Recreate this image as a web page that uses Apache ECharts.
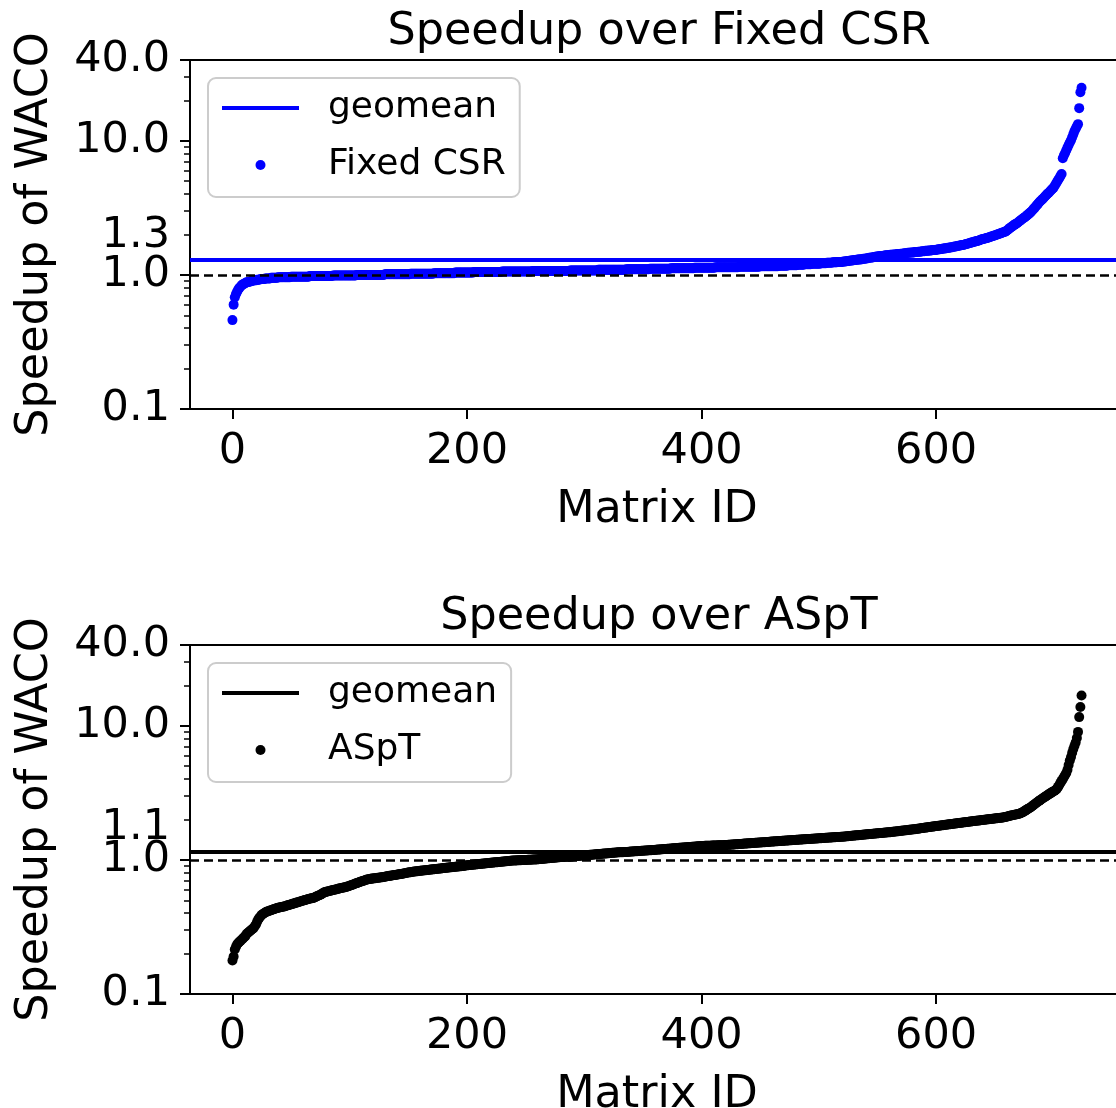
<!DOCTYPE html>
<html>
<head>
<meta charset="utf-8">
<script src="https://cdn.jsdelivr.net/npm/echarts@6/dist/echarts.min.js"></script>
<style>
  html, body { margin: 0; padding: 0; background: #fff; }
  #chart { width: 1116px; height: 1108px; }
</style>
</head>
<body>
<div id="chart"></div>
<script>
// sorted speedups, index = Matrix ID
const fixedCsr = [
  0.46, 0.60, 0.68, 0.72, 0.75, 0.78, 0.80, 0.82, 0.84, 0.85, 0.86, 0.87, 0.88, 0.88, 0.89, 0.89, 0.90, 0.90, 0.91, 0.91,
  0.91, 0.92, 0.92, 0.92, 0.93, 0.93, 0.93, 0.93, 0.94, 0.94, 0.94, 0.94, 0.94, 0.95, 0.95, 0.95, 0.95, 0.95, 0.95, 0.96,
  0.96, 0.96, 0.96, 0.96, 0.96, 0.96, 0.96, 0.96, 0.96, 0.96, 0.97, 0.97, 0.97, 0.97, 0.97, 0.97, 0.97, 0.97, 0.97, 0.97,
  0.97, 0.97, 0.97, 0.97, 0.97, 0.97, 0.98, 0.98, 0.98, 0.98, 0.98, 0.98, 0.98, 0.98, 0.98, 0.98, 0.98, 0.98, 0.98, 0.98,
  0.98, 0.98, 0.98, 0.98, 0.98, 0.98, 0.99, 0.99, 0.99, 0.99, 0.99, 0.99, 0.99, 0.99, 0.99, 0.99, 0.99, 0.99, 0.99, 0.99,
  0.99, 0.99, 0.99, 0.99, 0.99, 0.99, 1.00, 1.00, 1.00, 1.00, 1.00, 1.00, 1.00, 1.00, 1.00, 1.00, 1.00, 1.00, 1.00, 1.00,
  1.00, 1.00, 1.00, 1.00, 1.00, 1.00, 1.00, 1.00, 1.00, 1.00, 1.01, 1.01, 1.01, 1.01, 1.01, 1.01, 1.01, 1.01, 1.01, 1.01,
  1.01, 1.01, 1.01, 1.01, 1.01, 1.01, 1.01, 1.01, 1.01, 1.01, 1.01, 1.01, 1.02, 1.02, 1.02, 1.02, 1.02, 1.02, 1.02, 1.02,
  1.02, 1.02, 1.02, 1.02, 1.02, 1.02, 1.02, 1.02, 1.02, 1.02, 1.02, 1.02, 1.03, 1.03, 1.03, 1.03, 1.03, 1.03, 1.03, 1.03,
  1.03, 1.03, 1.03, 1.03, 1.03, 1.03, 1.03, 1.03, 1.03, 1.03, 1.04, 1.04, 1.04, 1.04, 1.04, 1.04, 1.04, 1.04, 1.04, 1.04,
  1.04, 1.04, 1.04, 1.04, 1.04, 1.04, 1.05, 1.05, 1.05, 1.05, 1.05, 1.05, 1.05, 1.05, 1.05, 1.05, 1.05, 1.05, 1.05, 1.05,
  1.05, 1.05, 1.05, 1.05, 1.05, 1.05, 1.05, 1.05, 1.05, 1.05, 1.06, 1.06, 1.06, 1.06, 1.06, 1.06, 1.06, 1.06, 1.06, 1.06,
  1.06, 1.06, 1.06, 1.06, 1.06, 1.06, 1.06, 1.06, 1.06, 1.06, 1.06, 1.06, 1.06, 1.06, 1.06, 1.06, 1.07, 1.07, 1.07, 1.07,
  1.07, 1.07, 1.07, 1.07, 1.07, 1.07, 1.07, 1.07, 1.07, 1.07, 1.07, 1.07, 1.07, 1.07, 1.07, 1.07, 1.07, 1.07, 1.07, 1.07,
  1.07, 1.07, 1.07, 1.07, 1.07, 1.07, 1.07, 1.07, 1.08, 1.08, 1.08, 1.08, 1.08, 1.08, 1.08, 1.08, 1.08, 1.08, 1.08, 1.08,
  1.08, 1.08, 1.08, 1.08, 1.08, 1.08, 1.08, 1.08, 1.08, 1.08, 1.08, 1.08, 1.09, 1.09, 1.09, 1.09, 1.09, 1.09, 1.09, 1.09,
  1.09, 1.09, 1.09, 1.09, 1.09, 1.09, 1.09, 1.09, 1.09, 1.09, 1.09, 1.09, 1.09, 1.09, 1.09, 1.09, 1.10, 1.10, 1.10, 1.10,
  1.10, 1.10, 1.10, 1.10, 1.10, 1.10, 1.10, 1.10, 1.10, 1.10, 1.10, 1.10, 1.10, 1.10, 1.10, 1.10, 1.11, 1.11, 1.11, 1.11,
  1.11, 1.11, 1.11, 1.11, 1.11, 1.11, 1.11, 1.11, 1.11, 1.11, 1.11, 1.11, 1.11, 1.11, 1.12, 1.12, 1.12, 1.12, 1.12, 1.12,
  1.12, 1.12, 1.12, 1.12, 1.12, 1.12, 1.12, 1.12, 1.12, 1.12, 1.12, 1.12, 1.12, 1.12, 1.13, 1.13, 1.13, 1.13, 1.13, 1.13,
  1.13, 1.13, 1.13, 1.13, 1.13, 1.13, 1.13, 1.13, 1.13, 1.13, 1.13, 1.13, 1.14, 1.14, 1.14, 1.14, 1.14, 1.14, 1.14, 1.14,
  1.14, 1.14, 1.14, 1.14, 1.14, 1.14, 1.14, 1.14, 1.14, 1.14, 1.14, 1.14, 1.15, 1.15, 1.15, 1.15, 1.15, 1.15, 1.15, 1.15,
  1.15, 1.15, 1.15, 1.15, 1.15, 1.15, 1.15, 1.15, 1.15, 1.15, 1.16, 1.16, 1.16, 1.16, 1.16, 1.16, 1.16, 1.16, 1.16, 1.16,
  1.16, 1.16, 1.16, 1.16, 1.16, 1.16, 1.17, 1.17, 1.17, 1.17, 1.17, 1.17, 1.17, 1.17, 1.18, 1.18, 1.18, 1.18, 1.18, 1.18,
  1.18, 1.18, 1.19, 1.19, 1.19, 1.19, 1.19, 1.19, 1.20, 1.20, 1.20, 1.20, 1.20, 1.20, 1.21, 1.21, 1.21, 1.21, 1.21, 1.21,
  1.21, 1.21, 1.22, 1.22, 1.22, 1.22, 1.22, 1.23, 1.23, 1.23, 1.23, 1.23, 1.24, 1.24, 1.24, 1.24, 1.25, 1.25, 1.25, 1.25,
  1.25, 1.26, 1.26, 1.26, 1.27, 1.27, 1.27, 1.28, 1.28, 1.28, 1.29, 1.29, 1.29, 1.30, 1.30, 1.30, 1.31, 1.31, 1.32, 1.32,
  1.32, 1.33, 1.33, 1.34, 1.34, 1.35, 1.35, 1.36, 1.36, 1.37, 1.37, 1.37, 1.38, 1.38, 1.38, 1.39, 1.39, 1.40, 1.40, 1.40,
  1.40, 1.41, 1.41, 1.41, 1.42, 1.42, 1.42, 1.43, 1.43, 1.43, 1.44, 1.44, 1.44, 1.45, 1.45, 1.45, 1.46, 1.46, 1.46, 1.47,
  1.47, 1.47, 1.48, 1.48, 1.48, 1.49, 1.49, 1.49, 1.50, 1.50, 1.50, 1.51, 1.51, 1.51, 1.52, 1.52, 1.52, 1.53, 1.53, 1.53,
  1.54, 1.54, 1.55, 1.55, 1.56, 1.56, 1.57, 1.57, 1.58, 1.58, 1.59, 1.59, 1.60, 1.61, 1.61, 1.62, 1.63, 1.63, 1.64, 1.65,
  1.65, 1.66, 1.67, 1.67, 1.68, 1.69, 1.70, 1.71, 1.72, 1.73, 1.74, 1.75, 1.76, 1.77, 1.78, 1.79, 1.80, 1.81, 1.83, 1.84,
  1.85, 1.86, 1.87, 1.88, 1.89, 1.90, 1.92, 1.93, 1.94, 1.96, 1.97, 1.98, 2.00, 2.01, 2.03, 2.04, 2.06, 2.07, 2.09, 2.10,
  2.13, 2.16, 2.20, 2.24, 2.27, 2.30, 2.34, 2.37, 2.40, 2.43, 2.47, 2.51, 2.55, 2.59, 2.63, 2.67, 2.71, 2.75, 2.80, 2.85,
  2.90, 2.96, 3.02, 3.09, 3.16, 3.24, 3.32, 3.40, 3.48, 3.55, 3.62, 3.70, 3.78, 3.86, 3.94, 4.02, 4.10, 4.19, 4.28, 4.37,
  4.45, 4.60, 4.76, 4.93, 5.10, 5.25, 5.45, 5.65, 7.40, 7.80, 8.10, 8.50, 8.90, 9.30, 9.70, 10.1, 10.6, 11.2, 11.8, 12.3,
  12.8, 13.3, 17.5, 23.0, 24.8
];

const aspt = [
  0.178, 0.19, 0.215, 0.225, 0.235, 0.24, 0.245, 0.25, 0.255, 0.26, 0.265, 0.27, 0.28, 0.285, 0.29, 0.295, 0.30, 0.305, 0.31, 0.32,
  0.33, 0.345, 0.36, 0.37, 0.38, 0.39, 0.395, 0.40, 0.405, 0.41, 0.413, 0.416, 0.419, 0.422, 0.425, 0.428, 0.431, 0.434, 0.437, 0.44,
  0.442, 0.444, 0.446, 0.448, 0.45, 0.452, 0.455, 0.458, 0.461, 0.463, 0.466, 0.469, 0.472, 0.475, 0.478, 0.481, 0.484, 0.487, 0.49, 0.493,
  0.496, 0.499, 0.502, 0.505, 0.508, 0.511, 0.514, 0.517, 0.518, 0.52, 0.525, 0.53, 0.535, 0.54, 0.545, 0.55, 0.555, 0.565, 0.57, 0.575,
  0.578, 0.581, 0.584, 0.587, 0.59, 0.593, 0.596, 0.599, 0.602, 0.605, 0.608, 0.611, 0.614, 0.617, 0.62, 0.623, 0.626, 0.629, 0.633, 0.637,
  0.641, 0.646, 0.651, 0.656, 0.661, 0.666, 0.671, 0.676, 0.681, 0.686, 0.691, 0.696, 0.70, 0.705, 0.71, 0.713, 0.716, 0.719, 0.722, 0.725,
  0.727, 0.729, 0.731, 0.733, 0.735, 0.737, 0.739, 0.741, 0.743, 0.745, 0.748, 0.751, 0.754, 0.757, 0.76, 0.763, 0.766, 0.768, 0.77, 0.772,
  0.774, 0.777, 0.78, 0.783, 0.786, 0.789, 0.792, 0.795, 0.798, 0.801, 0.804, 0.807, 0.81, 0.813, 0.816, 0.818, 0.82, 0.822, 0.824, 0.826,
  0.828, 0.83, 0.832, 0.834, 0.836, 0.838, 0.84, 0.842, 0.844, 0.846, 0.848, 0.85, 0.852, 0.854, 0.856, 0.858, 0.86, 0.862, 0.864, 0.866,
  0.868, 0.87, 0.872, 0.874, 0.876, 0.878, 0.88, 0.882, 0.884, 0.886, 0.888, 0.89, 0.892, 0.894, 0.896, 0.898, 0.90, 0.902, 0.905, 0.908,
  0.91, 0.912, 0.914, 0.916, 0.918, 0.92, 0.922, 0.924, 0.926, 0.928, 0.93, 0.932, 0.934, 0.936, 0.938, 0.94, 0.942, 0.944, 0.946, 0.948,
  0.95, 0.952, 0.954, 0.956, 0.958, 0.96, 0.962, 0.964, 0.966, 0.968, 0.97, 0.972, 0.974, 0.976, 0.978, 0.98, 0.982, 0.984, 0.986, 0.988,
  0.989, 0.99, 0.991, 0.992, 0.993, 0.994, 0.995, 0.996, 0.997, 0.998, 0.999, 1.0, 1.001, 1.002, 1.003, 1.004, 1.005, 1.006, 1.007, 1.008,
  1.009, 1.011, 1.013, 1.015, 1.017, 1.019, 1.021, 1.023, 1.025, 1.027, 1.029, 1.031, 1.033, 1.035, 1.037, 1.039, 1.041, 1.043, 1.045, 1.047,
  1.049, 1.05, 1.051, 1.052, 1.053, 1.054, 1.055, 1.056, 1.057, 1.058, 1.06, 1.062, 1.064, 1.066, 1.068, 1.07, 1.072, 1.074, 1.076, 1.078,
  1.08, 1.082, 1.084, 1.086, 1.088, 1.09, 1.092, 1.094, 1.096, 1.098, 1.10, 1.102, 1.104, 1.106, 1.108, 1.11, 1.112, 1.114, 1.116, 1.118,
  1.12, 1.122, 1.124, 1.126, 1.128, 1.13, 1.132, 1.134, 1.136, 1.138, 1.139, 1.14, 1.141, 1.142, 1.143, 1.144, 1.145, 1.147, 1.149, 1.151,
  1.153, 1.155, 1.157, 1.158, 1.16, 1.162, 1.163, 1.165, 1.167, 1.168, 1.17, 1.172, 1.173, 1.175, 1.177, 1.178, 1.18, 1.182, 1.183, 1.185,
  1.187, 1.189, 1.191, 1.193, 1.195, 1.197, 1.199, 1.201, 1.203, 1.205, 1.207, 1.209, 1.211, 1.213, 1.215, 1.217, 1.219, 1.221, 1.223, 1.225,
  1.227, 1.229, 1.231, 1.233, 1.235, 1.237, 1.239, 1.241, 1.243, 1.245, 1.247, 1.249, 1.251, 1.253, 1.255, 1.257, 1.259, 1.261, 1.263, 1.265,
  1.267, 1.269, 1.271, 1.272, 1.273, 1.274, 1.275, 1.276, 1.277, 1.278, 1.279, 1.28, 1.281, 1.282, 1.283, 1.284, 1.285, 1.286, 1.287, 1.288,
  1.289, 1.29, 1.292, 1.294, 1.296, 1.298, 1.30, 1.302, 1.304, 1.306, 1.308, 1.31, 1.312, 1.314, 1.316, 1.318, 1.32, 1.322, 1.324, 1.326,
  1.328, 1.33, 1.332, 1.334, 1.336, 1.338, 1.34, 1.342, 1.344, 1.346, 1.348, 1.35, 1.352, 1.354, 1.356, 1.358, 1.36, 1.362, 1.364, 1.366,
  1.368, 1.37, 1.372, 1.374, 1.376, 1.378, 1.38, 1.382, 1.384, 1.386, 1.388, 1.39, 1.392, 1.394, 1.396, 1.398, 1.40, 1.402, 1.404, 1.406,
  1.408, 1.41, 1.412, 1.414, 1.416, 1.418, 1.42, 1.422, 1.424, 1.426, 1.428, 1.43, 1.432, 1.434, 1.436, 1.438, 1.44, 1.442, 1.444, 1.446,
  1.448, 1.45, 1.452, 1.454, 1.456, 1.458, 1.46, 1.462, 1.464, 1.466, 1.468, 1.47, 1.472, 1.474, 1.476, 1.478, 1.48, 1.482, 1.484, 1.486,
  1.488, 1.49, 1.493, 1.496, 1.499, 1.502, 1.505, 1.508, 1.511, 1.514, 1.517, 1.52, 1.523, 1.526, 1.529, 1.532, 1.535, 1.538, 1.541, 1.544,
  1.547, 1.55, 1.553, 1.556, 1.559, 1.562, 1.565, 1.568, 1.571, 1.574, 1.577, 1.58, 1.583, 1.586, 1.589, 1.592, 1.595, 1.598, 1.601, 1.604,
  1.607, 1.61, 1.614, 1.618, 1.622, 1.626, 1.63, 1.634, 1.638, 1.642, 1.646, 1.65, 1.654, 1.658, 1.662, 1.666, 1.67, 1.674, 1.678, 1.682,
  1.686, 1.69, 1.695, 1.70, 1.705, 1.71, 1.715, 1.72, 1.725, 1.73, 1.735, 1.74, 1.745, 1.75, 1.755, 1.76, 1.765, 1.77, 1.775, 1.78,
  1.785, 1.79, 1.795, 1.80, 1.805, 1.81, 1.815, 1.82, 1.825, 1.83, 1.835, 1.84, 1.845, 1.85, 1.855, 1.86, 1.865, 1.87, 1.875, 1.88,
  1.885, 1.89, 1.895, 1.90, 1.905, 1.91, 1.915, 1.92, 1.925, 1.93, 1.935, 1.94, 1.945, 1.95, 1.955, 1.96, 1.965, 1.97, 1.975, 1.98,
  1.985, 1.99, 1.995, 2.0, 2.005, 2.01, 2.015, 2.02, 2.025, 2.03, 2.035, 2.04, 2.045, 2.05, 2.055, 2.06, 2.065, 2.07, 2.08, 2.09,
  2.10, 2.11, 2.12, 2.13, 2.14, 2.15, 2.16, 2.17, 2.18, 2.19, 2.20, 2.21, 2.23, 2.25, 2.27, 2.30, 2.33, 2.36, 2.39, 2.42,
  2.45, 2.48, 2.52, 2.56, 2.60, 2.64, 2.68, 2.72, 2.76, 2.80, 2.84, 2.88, 2.92, 2.96, 3.0, 3.04, 3.08, 3.12, 3.16, 3.20,
  3.24, 3.28, 3.32, 3.40, 3.50, 3.62, 3.75, 3.88, 4.0, 4.15, 4.30, 4.45, 4.70, 5.10, 5.50, 5.85, 6.30, 6.70, 7.10, 7.50,
  8.10, 9.0, 11.6, 13.8, 16.8
];

const panelTitles = ['Speedup over Fixed CSR', 'Speedup over ASpT'];
const seriesNames = ['Fixed CSR', 'ASpT'];
const geomeanNames = ['geomean', 'geomean '];   // trailing space keeps the two legend entries apart
const seriesColors = ['#0000ff', '#000000'];
const geomeans = [1.29, 1.14];
const geomeanLabels = ['1.3', '1.1'];
const yMajorTicks = [0.1, 1, 10, 40];
const yMajorLabels = ['0.1', '1.0', '10.0', '40.0'];
const yMinorTicks = [0.2, 0.3, 0.4, 0.5, 0.6, 0.7, 0.8, 0.9, 2, 3, 4, 5, 6, 7, 8, 9, 20, 30];
const xTicks = [0, 200, 400, 600];

const FONT = 'DejaVu Sans';
const panelData = [fixedCsr, aspt];
const gridTops = [60, 645];
const axisLineStyle = { color: '#000', width: 2 };

let chart = echarts.init(document.getElementById('chart'));

let grids = [], xAxes = [], yAxes = [], series = [], legends = [], titles = [];

for (let p = 0; p < 2; p++) {
  const color = seriesColors[p];
  grids.push({
    left: 190, top: gridTops[p], width: 934, height: 349,
    outerBoundsMode: 'none', containLabel: false,
    show: true, borderColor: '#000', borderWidth: 2
  });
  titles.push({
    text: panelTitles[p], left: 659, top: gridTops[p] - 50, textAlign: 'center', padding: 0,
    textStyle: { fontFamily: FONT, fontSize: 44.5, fontWeight: 'normal', color: '#000' }
  });
  xAxes.push({
    gridIndex: p, type: 'value', min: -36.2, max: 760.2,
    name: 'Matrix ID', nameLocation: 'middle', nameGap: 79,
    nameTextStyle: { fontFamily: FONT, fontSize: 44.5, color: '#000' },
    axisLine: { show: true, onZero: false, lineStyle: axisLineStyle },
    axisTick: { show: true, customValues: xTicks, length: 10, lineStyle: axisLineStyle },
    axisLabel: { customValues: xTicks, fontFamily: FONT, fontSize: 43, color: '#000', margin: 21 },
    splitLine: { show: false }
  });
  const gm = geomeans[p];
  yAxes.push({
    gridIndex: p, type: 'log', logBase: 10, min: 0.1, max: 40, position: 'left',
    name: 'Speedup of WACO', nameLocation: 'middle', nameGap: 132,
    nameTextStyle: { fontFamily: FONT, fontSize: 44.5, color: '#000' },
    axisLine: { show: true, onZero: false, lineStyle: axisLineStyle },
    axisTick: { show: true, customValues: yMajorTicks, length: 10, lineStyle: axisLineStyle },
    axisLabel: {
      customValues: yMajorTicks.concat([gm]),
      fontFamily: FONT, fontSize: 43, color: '#000', margin: 20,
      formatter: function (v) {
        if (Math.abs(v - gm) < 1e-6) return '{g|' + geomeanLabels[p] + '}';
        for (let k = 0; k < yMajorTicks.length; k++) {
          if (Math.abs(v - yMajorTicks[k]) / yMajorTicks[k] < 1e-6) return yMajorLabels[k];
        }
        return '';
      },
      rich: { g: { fontFamily: FONT, fontSize: 43, color: '#000', padding: [0, 0, 48, 0] } }
    },
    splitLine: { show: false }
  });
  // minor log ticks, shorter
  yAxes.push({
    gridIndex: p, type: 'log', logBase: 10, min: 0.1, max: 40, position: 'left',
    axisLine: { show: false, onZero: false },
    axisTick: { show: true, customValues: yMinorTicks, length: 6, lineStyle: { color: '#000', width: 1.5 } },
    axisLabel: { show: false },
    splitLine: { show: false }
  });

  series.push({
    type: 'line', name: geomeanNames[p], xAxisIndex: p, yAxisIndex: 2 * p,
    data: [], symbol: 'none', color: color,
    lineStyle: { color: color, width: 4 },
    markLine: {
      silent: true, symbol: 'none', animation: false, label: { show: false },
      lineStyle: { color: color, width: 4, type: 'solid' },
      data: [{ yAxis: gm }]
    }
  });
  series.push({
    type: 'scatter', name: seriesNames[p], xAxisIndex: p, yAxisIndex: 2 * p,
    data: panelData[p].map((v, i) => [i, v]),
    symbol: 'circle', symbolSize: 10,
    itemStyle: { color: color, opacity: 1 },
    emphasis: { disabled: true },
    markLine: {
      silent: true, symbol: 'none', animation: false, label: { show: false },
      lineStyle: { color: '#000', width: 2.5, type: [9, 5] },
      data: [{ yAxis: 1 }]
    }
  });

  legends.push({
    orient: 'vertical', left: 208, top: gridTops[p] + 18,
    data: [
      { name: geomeanNames[p], icon: 'path://M0,0H77V4H0Z' },
      { name: seriesNames[p], icon: 'circle' }
    ],
    formatter: n => n.trim(),
    itemWidth: 77, itemHeight: 10, itemGap: 21,
    padding: [12, 14, 14, 14],
    textStyle: { fontFamily: FONT, fontSize: 36, color: '#000', padding: [0, 0, 0, 24] },
    borderColor: '#cccccc', borderWidth: 2, borderRadius: 8,
    backgroundColor: 'rgba(255,255,255,0.8)',
    selectedMode: false
  });
}

let option = {
  animation: false,
  backgroundColor: '#fff',
  textStyle: { fontFamily: FONT },
  title: titles,
  legend: legends,
  grid: grids,
  xAxis: xAxes,
  yAxis: yAxes,
  series: series
};
chart.setOption(option);
</script>
</body>
</html>
